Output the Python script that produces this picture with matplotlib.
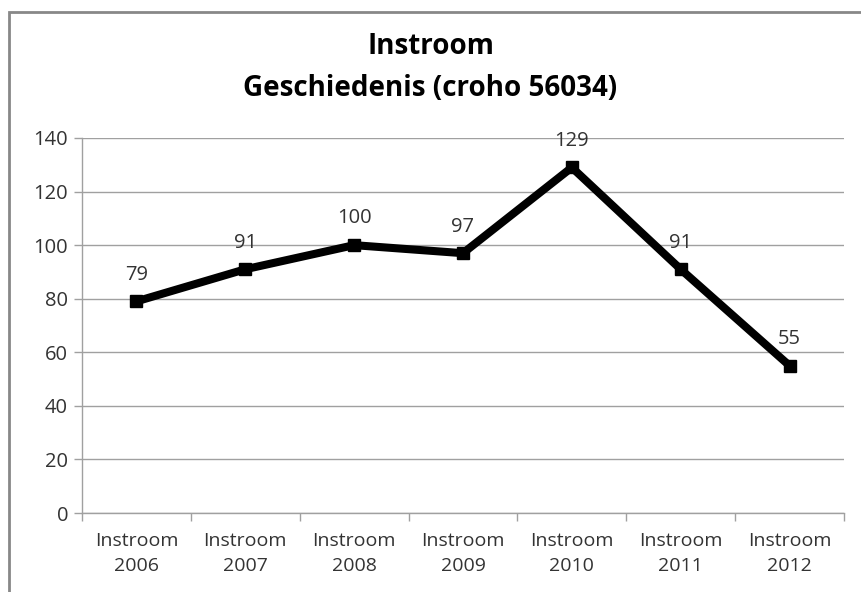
import matplotlib
matplotlib.use('Agg')
import matplotlib.pyplot as plt
from matplotlib.patches import Rectangle

plt.rcParams['font.family'] = ['Open Sans', 'DejaVu Sans']

jaren = ['2006', '2007', '2008', '2009', '2010', '2011', '2012']
labels = ['Instroom\n' + j for j in jaren]
instroom = [79, 91, 100, 97, 129, 91, 55]

fig = plt.figure(figsize=(8.61, 5.92), dpi=100)
ax = fig.add_axes([0.0952, 0.1334, 0.885, 0.6335])

x = list(range(len(instroom)))
ax.plot(x, instroom, color='black', linewidth=5.8, marker='s', markersize=9,
        solid_joinstyle='miter')

for xi, v in zip(x, instroom):
    ax.annotate(str(v), (xi, v), xytext=(0, 12), textcoords='offset points',
                ha='center', va='bottom', fontsize=14.5, color='#333333')

ax.set_xlim(-0.5, len(instroom) - 0.5)
ax.set_ylim(0, 140)
ax.set_yticks(range(0, 141, 20))
ax.yaxis.grid(True, color='#a0a0a0', linewidth=1)
ax.set_axisbelow(True)

# categorie-labels tussen de streepjes
ax.set_xticks(x)
ax.set_xticklabels(labels, fontsize=14, color='#333333', linespacing=1.45)
ax.tick_params(axis='x', length=0, pad=14)
ax.set_xticks([i - 0.5 for i in range(len(instroom) + 1)], minor=True)
ax.tick_params(axis='x', which='minor', length=6, color='#a0a0a0', width=1)
ax.tick_params(axis='y', length=6, color='#a0a0a0', width=1, labelsize=14.5,
               labelcolor='#333333', pad=4)

for s in ['top', 'right']:
    ax.spines[s].set_visible(False)
for s in ['left', 'bottom']:
    ax.spines[s].set_color('#a0a0a0')
    ax.spines[s].set_linewidth(1)

fig.text(0.5, 1 - 47 / 592, 'Instroom', ha='center', va='center',
         fontsize=20, fontweight='bold')
fig.text(0.5, 1 - 88 / 592, 'Geschiedenis (croho 56034)', ha='center',
         va='center', fontsize=20, fontweight='bold')

fig.patches.append(Rectangle((9 / 861, -0.05), 1.1, 1 - 12 / 592 + 0.05,
                             transform=fig.transFigure, fill=False,
                             edgecolor='#888888', linewidth=2))

fig.savefig('out.png', dpi=100)
